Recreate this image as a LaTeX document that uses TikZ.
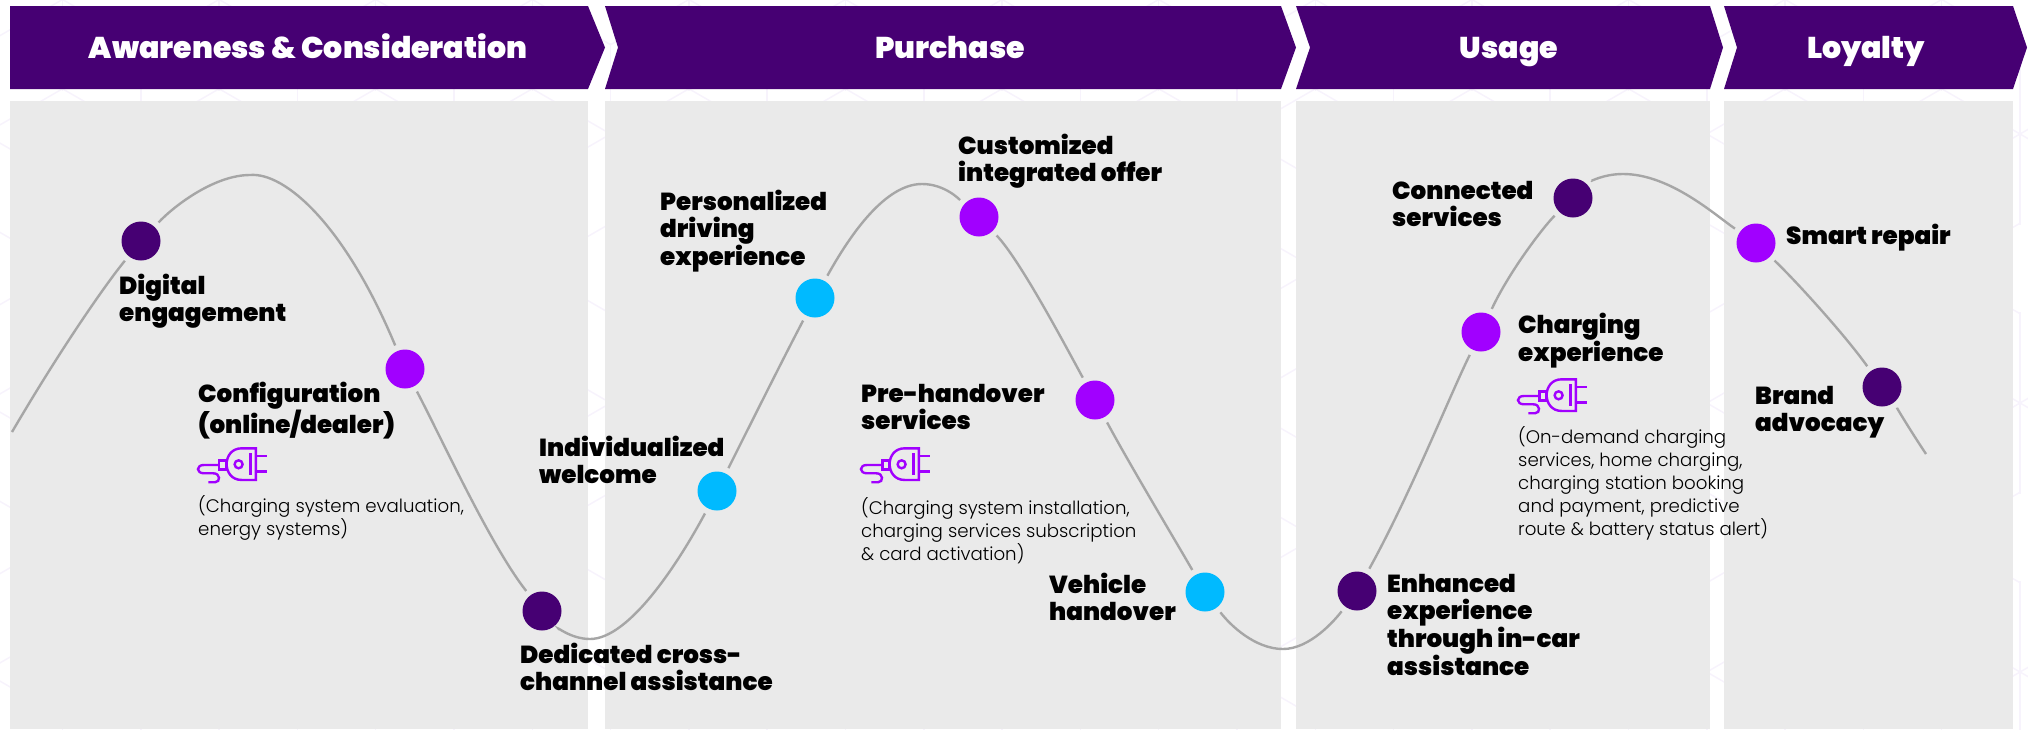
\documentclass[tikz,border=0pt]{standalone}
\usepackage{fontspec}
\setmainfont{Poppins}[BoldFont={Poppins Black}]
\newfontfamily\lightfont{Poppins Light}
\usepackage{xcolor}
\usetikzlibrary{positioning}
\definecolor{deep}{HTML}{460073}
\definecolor{vivid}{HTML}{A100FF}
\definecolor{sky}{HTML}{00BAFF}
\definecolor{panel}{HTML}{EAEAEA}
\definecolor{wave}{HTML}{A6A6A6}
\definecolor{lattice}{HTML}{F7F3FC}
\tikzset{
  band/.style={fill=deep},
  bandtext/.style={anchor=base,text=white,font=\fontsize{30}{32}\selectfont\bfseries},
  dot/.style={circle,minimum size=39pt,inner sep=0pt,outer sep=6pt},
  lbl/.style={anchor=north west,inner sep=0pt,align=left,font=\fontsize{24.6}{27}\selectfont\bfseries},
  small/.style={anchor=north west,inner sep=0pt,align=left,font=\fontsize{18.2}{23}\selectfont\lightfont},
  plug/.pic={
    \begin{scope}[vivid,line width=2.4pt,x=0.333pt,y=-0.333pt]
      \draw (85,157) -- (105,157) .. controls (122,157) and (122,130) .. (100,130) -- (72,130)
            .. controls (48,130) and (48,105) .. (72,105) -- (118,105);
      \draw (118,92) rectangle (140,118);
      \draw (228,55) -- (185,55) .. controls (125,55) and (125,150) .. (185,150) -- (228,150) -- cycle;
      \draw (176,103) circle (12);
      \draw (212,70) -- (212,135);
      \draw (228,78) -- (260,78) (228,125) -- (260,125);
    \end{scope}
  }
}
\begin{document}
\begin{tikzpicture}[x=1pt,y=-1pt]
   \useasboundingbox (0,0) rectangle (2028,729);
   % faint lattice behind everything
   \begin{scope}
     \clip (0,0) rectangle (2028,729);
     \foreach \xo/\yo in {2020/134,1941.7/268.5}
       \foreach \i in {0,...,13}
         \foreach \j in {-1,...,2}
           \foreach \a in {30,90,150,210,270,330}
             \draw[lattice,line width=1.5pt] (\xo-156.6*\i,\yo+269*\j) -- +(\a:91);
   \end{scope}
   % panels
   \foreach \xa/\xb in {10/588,605/1281,1296/1710,1724/2013}
     \fill[panel] (\xa,101) rectangle (\xb,729);
   % header bands
   \fill[band] (10,6) -- (588,6) -- (605,47.5) -- (588,89) -- (10,89) -- cycle;
   \foreach \xa/\xb/\xc/\xd in {605/618/1281/1296,1296/1310/1710/1723,1724/1737/2013/2027}
     \fill[band] (\xa,6) -- (\xc,6) -- (\xd,47.5) -- (\xc,89) -- (\xa,89) -- (\xb,47.5) -- cycle;
   \node[bandtext] (h_1) at (308,58.5) {Awareness \& Consideration};
   \node[bandtext] (h_2) at (950,58.5) {Purchase};
   \node[bandtext] (h_3) at (1509,58.5) {Usage};
   \node[bandtext] (h_4) at (1866,58.5) {Loyalty};
   % points on the wave
   \node[dot,fill=deep] (d_1) at (141,241) {};
   \node[dot,fill=vivid] (d_2) at (405,369) {};
   \node[dot,fill=deep] (d_3) at (542,611) {};
   \node[dot,fill=sky] (d_4) at (717,491) {};
   \node[dot,fill=sky] (d_5) at (815,298) {};
   \node[dot,fill=vivid] (d_6) at (979,217) {};
   \node[dot,fill=vivid] (d_7) at (1095,400) {};
   \node[dot,fill=sky] (d_8) at (1205,592) {};
   \node[dot,fill=deep] (d_9) at (1357,591) {};
   \node[dot,fill=vivid] (d_10) at (1481,332) {};
   \node[dot,fill=deep] (d_11) at (1573,198) {};
   \node[dot,fill=vivid] (d_12) at (1756,243) {};
   \node[dot,fill=deep] (d_13) at (1882,387) {};
   \coordinate (w_0) at (12,432);
   \coordinate (w_1) at (250,175);
   \coordinate (w_2) at (590,639);
   \coordinate (w_3) at (922,184);
   \coordinate (w_4) at (1283,649);
   \coordinate (w_5) at (1623,174);
   \coordinate (w_6) at (1926,454);
   % the wave itself
   \draw[wave,line width=2.4pt]
    (w_0) .. controls (60,350) and (105,285) .. (d_1)
    (d_1) .. controls (175,205) and (215,175) .. (w_1)
          .. controls (285,172) and (345,225) .. (d_2)
    (d_2) .. controls (440,435) and (490,545) .. (d_3)
    (d_3) .. controls (555,625) and (570,639) .. (w_2)
          .. controls (630,639) and (680,560) .. (d_4)
    (d_4) .. controls (750,425) and (785,355) .. (d_5)
    (d_5) .. controls (850,235) and (885,184) .. (w_3)
          .. controls (945,184) and (960,200) .. (d_6)
    (d_6) .. controls (1020,260) and (1065,345) .. (d_7)
    (d_7) .. controls (1130,465) and (1175,540) .. (d_8)
    (d_8) .. controls (1230,625) and (1255,649) .. (w_4)
          .. controls (1310,649) and (1335,620) .. (d_9)
    (d_9) .. controls (1410,495) and (1450,395) .. (d_10)
    (d_10) .. controls (1510,270) and (1545,225) .. (d_11)
    (d_11) .. controls (1590,182) and (1603,174) .. (w_5)
          .. controls (1670,174) and (1715,215) .. (d_12)
    (d_12) .. controls (1795,280) and (1845,335) .. (d_13)
    (d_13) .. controls (1895,405) and (1910,430) .. (w_6);
   % labels
   \node[lbl] (l_1) at (119,274) {Digital\\engagement};
   \node[lbl] (l_2) at (198,382) {Configuration\\(online/dealer)};
   \node[lbl] (l_3) at (520,643) {Dedicated cross-\\channel assistance};
   \node[lbl] (l_4) at (539,436) {Individualized\\welcome};
   \node[lbl] (l_5) at (660,190) {Personalized\\driving\\experience};
   \node[lbl] (l_6) at (958,134) {Customized\\integrated offer};
   \node[lbl] (l_7) at (861,384) {Pre-handover\\services};
   \node[lbl] (l_8) at (1049,573) {Vehicle\\handover};
   \node[lbl] (l_9) at (1387,574) {Enhanced\\experience\\through in-car\\assistance};
   \node[lbl] (l_10) at (1392,181) {Connected\\services};
   \node[lbl] (l_11) at (1518,313) {Charging\\experience};
   \node[lbl] (l_12) at (1786,224) {Smart repair};
   \node[lbl] (l_13) at (1755,386) {Brand\\advocacy};
   \node[small] (s_1) at (198,495) {(Charging system evaluation,\\energy systems)};
   \node[small] (s_2) at (861,497) {(Charging system installation,\\charging services subscription\\\& card activation)};
   \node[small] (s_3) at (1518,426) {(On-demand charging\\services, home charging,\\charging station booking\\and payment, predictive\\route \& battery status alert)};
   % plugs
   \path (180,430) pic {plug} (843,430) pic {plug} (1500,361) pic {plug};
\end{tikzpicture}
\end{document}
